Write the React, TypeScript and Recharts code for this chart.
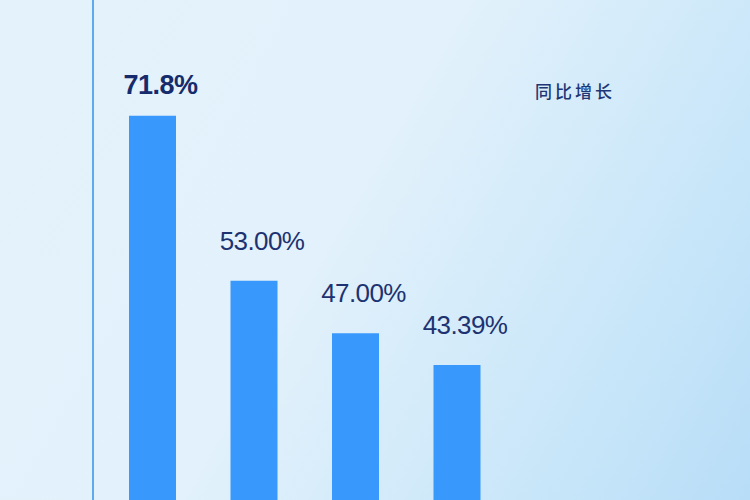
import React from "react";
import { Bar, BarChart, LabelList, Legend, XAxis, YAxis } from "recharts";

const categories = ["1", "2", "3", "4"];
const growth = [71.8, 53.0, 47.0, 43.39];
const growthLabels = ["71.8%", "53.00%", "47.00%", "43.39%"];
const seriesName = "同比增长";

const data = categories.map((c, i) => ({ name: c, growth: growth[i], label: growthLabels[i] }));

const numFont = '"Liberation Sans", Arial, sans-serif';

function BarLabel(props: any) {
  const { x, y, width, index } = props;
  const first = index === 0;
  return (
    <text
      x={x + width / 2 + 8}
      y={y - (first ? 22 : 31)}
      textAnchor="middle"
      fill={first ? "#162b6b" : "#1d3270"}
      fontFamily={numFont}
      fontSize={first ? 27 : 26}
      fontWeight={first ? 700 : 400}
      letterSpacing={first ? -0.5 : -0.6}
    >
      {growthLabels[index]}
    </text>
  );
}

function LegendText() {
  return (
    <div
      style={{
        fontFamily: '"Noto Sans CJK SC", sans-serif',
        fontSize: 17,
        letterSpacing: 3,
        color: "#1f3674",
        lineHeight: "20px",
        fontWeight: 500,
        whiteSpace: "nowrap",
      }}
    >
      {seriesName}
    </div>
  );
}

export default function App() {
  return (
    <div
      style={{
        position: "absolute",
        left: 0,
        top: 0,
        width: 750,
        height: 500,
        overflow: "hidden",
        background:
          "linear-gradient(120deg, #e4f2fb 0%, #e2f1fb 45%, #c6e5f9 82%, #b8ddf7 100%)",
      }}
    >
      <BarChart width={750} height={500} data={data} margin={{ top: 0, right: 242, bottom: 0, left: 90 }}>
        <XAxis dataKey="name" hide padding={{ left: 9, right: 0 }} />
        <YAxis
          type="number"
          width={3}
          domain={[28, 85]}
          allowDataOverflow
          tick={false}
          tickLine={false}
          axisLine={{ stroke: "#5fa9ef", strokeWidth: 2 }}
        />
        <Legend
          layout="horizontal"
          verticalAlign="middle"
          align="center"
          content={<LegendText />}
          wrapperStyle={{ position: "absolute", left: 535, top: 81, width: "auto" }}
        />
        <Bar dataKey="growth" name={seriesName} fill="#3898fc" barSize={47} isAnimationActive={false}>
          <LabelList dataKey="label" content={<BarLabel />} />
        </Bar>
      </BarChart>
    </div>
  );
}
